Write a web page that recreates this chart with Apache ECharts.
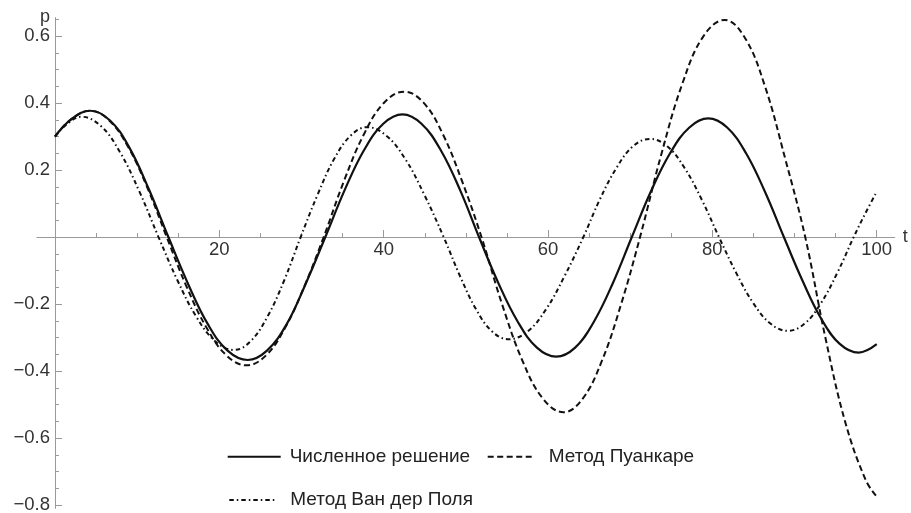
<!DOCTYPE html>
<html>
<head>
<meta charset="utf-8">
<script src="https://cdn.jsdelivr.net/npm/echarts@6/dist/echarts.min.js"></script>
<style>
html,body{margin:0;padding:0;background:#fff;}
#chart{width:911px;height:513px;}
</style>
</head>
<body>
<div id="chart"></div>
<script>
// Численное решение
const numericT = [0,2,4.3,6.7,9.05,11.4,13.8,16.2,18.6,21,23.45,25.8,28.2,30.5,32.9,35.25,37.6,39.95,42.3,
  44.6,46.95,49.3,51.6,53.95,56.3,58.65,61,63.3,65.6,67.9,70.2,72.5,74.85,77.2,79.5,81.8,84.1,86.4,88.7,
  91,93.25,95.5,97.8,100];
const numericP = [0.300,0.352,0.377,0.348,0.267,0.144,0,-0.140,-0.260,-0.339,-0.367,-0.339,-0.260,-0.140,0,
  0.140,0.259,0.338,0.366,0.338,0.259,0.140,0,-0.137,-0.252,-0.330,-0.357,-0.330,-0.252,-0.137,0,
  0.135,0.250,0.327,0.354,0.327,0.250,0.135,0,-0.132,-0.244,-0.319,-0.345,-0.320];
// Метод Пуанкаре
const poincareT = [0,2,4.3,6.6,8.95,11.3,13.6,16,18.45,20.9,23.3,25.65,28,30.35,32.7,35.15,37.6,40.05,42.5,
  44.85,47.2,49.55,51.9,54.4,56.9,59.4,61.9,64.2,66.55,68.9,71.2,73.8,76.35,78.9,81.5,83.95,86.4,88.85,91.3,
  93.75,96.2,98.65,100];
const poincareP = [0.300,0.352,0.377,0.348,0.267,0.144,0,-0.147,-0.271,-0.354,-0.383,-0.354,-0.271,-0.147,0,
  0.166,0.307,0.401,0.434,0.401,0.307,0.166,0,-0.200,-0.370,-0.483,-0.523,-0.483,-0.370,-0.200,0,
  0.248,0.458,0.599,0.648,0.595,0.450,0.235,0,-0.300,-0.555,-0.725,-0.775];
// Метод Ван дер Поля
const vanDerPolT = [0,1.6,3.2,5.55,7.9,10.25,12.6,14.9,17.2,19.5,21.8,23.8,25.85,27.9,29.9,31.95,33.95,36,38,
  40.3,42.65,44.95,47.3,49.3,51.25,53.2,55.2,57.5,59.75,62,64.3,66.3,68.35,70.35,72.4,74.5,76.6,78.7,80.8,
  82.9,85,87.1,89.2,91.2,93.2,95.2,97.2,98.6,100];
const vanDerPolP = [0.300,0.340,0.359,0.332,0.254,0.137,0,-0.129,-0.238,-0.311,-0.337,-0.311,-0.238,-0.129,0,
  0.126,0.232,0.303,0.328,0.303,0.232,0.126,0,-0.117,-0.216,-0.282,-0.305,-0.282,-0.216,-0.117,0,
  0.112,0.207,0.271,0.293,0.271,0.207,0.112,0,-0.107,-0.198,-0.259,-0.280,-0.259,-0.198,-0.107,0,0.070,0.135];

const seriesNames = ['Численное решение','Метод Пуанкаре','Метод Ван дер Поля'];
const xMajorTicks = [20,40,60,80,100];
const xMinorTicks = [5,10,15,25,30,35,45,50,55,65,70,75,85,90,95];
const yMajorTicks = [-0.8,-0.6,-0.4,-0.2,0.2,0.4,0.6];
const yMinorTicks = [-0.75,-0.7,-0.65,-0.55,-0.5,-0.45,-0.35,-0.3,-0.25,-0.15,-0.1,-0.05,
  0.05,0.1,0.15,0.25,0.3,0.35,0.45,0.5,0.55,0.65];

const pairs = (ts, ps) => ts.map((t,i) => [t, ps[i]]);

const W = 911, H = 513;
const FONT = "'Liberation Sans', Arial, sans-serif";
const AXIS_COLOR = '#9a9a9a';
const TEXT_COLOR = '#333';
const X_MIN = -2.2, X_MAX = 102.2, Y_MIN = -0.81, Y_MAX = 0.655;
const GRID = { left: 36.9, right: 16.2, top: 17.6, bottom: 4.6 };
// axes cross at (0,0): shift them inward from the grid edges
const gridW = W - GRID.left - GRID.right;
const gridH = H - GRID.top - GRID.bottom;
const yAxisShift = -(0 - X_MIN) / (X_MAX - X_MIN) * gridW;
const xAxisShift = -(0 - Y_MIN) / (Y_MAX - Y_MIN) * gridH;

function xAxisDef(major) {
  return {
    type: 'value', min: X_MIN, max: X_MAX, position: 'bottom', gridIndex: 0, offset: xAxisShift,
    axisLine: { show: major, onZero: false, lineStyle: { color: AXIS_COLOR, width: 1 } },
    axisTick: { show: true, inside: true, length: major ? 7 : 4, customValues: major ? xMajorTicks : xMinorTicks,
      lineStyle: { color: AXIS_COLOR, width: 1 } },
    axisLabel: { show: major, customValues: xMajorTicks, margin: 3, color: TEXT_COLOR, fontSize: 18.5, fontFamily: FONT },
    splitLine: { show: false },
    name: major ? 't' : '', nameLocation: 'end', nameGap: 8,
    nameTextStyle: { color: TEXT_COLOR, fontSize: 18, fontFamily: FONT }
  };
}
function yAxisDef(major) {
  return {
    type: 'value', min: Y_MIN, max: Y_MAX, position: 'left', gridIndex: 0, offset: yAxisShift,
    axisLine: { show: major, onZero: false, lineStyle: { color: AXIS_COLOR, width: 1 } },
    axisTick: { show: true, inside: true, length: major ? 7 : 4, customValues: major ? yMajorTicks : yMinorTicks,
      lineStyle: { color: AXIS_COLOR, width: 1 } },
    axisLabel: { show: major, customValues: yMajorTicks, margin: 5, color: TEXT_COLOR, fontSize: 18.5, fontFamily: FONT,
      formatter: v => String(v).replace('-', '\u2212') },
    splitLine: { show: false },
    name: major ? 'p' : '', nameLocation: 'end', nameGap: -8,
    nameTextStyle: { color: TEXT_COLOR, fontSize: 18, fontFamily: FONT, align: 'right', verticalAlign: 'bottom', padding: [0, 5, 0, 0] }
  };
}
function legendDef(name, left, top, width, textPad) {
  return {
    data: [name], left: left, top: top, orient: 'horizontal', itemWidth: width, itemHeight: 14,
    itemStyle: { color: 'rgba(0,0,0,0)', borderWidth: 0, opacity: 0 },
    textStyle: { fontSize: 19, fontFamily: FONT, color: '#222', padding: [0, 0, 0, textPad] }
  };
}

const chart = echarts.init(document.getElementById('chart'), null, { renderer: 'canvas' });
chart.setOption({
  animation: false,
  backgroundColor: '#fff',
  grid: { left: GRID.left, right: GRID.right, top: GRID.top, bottom: GRID.bottom, containLabel: false, outerBoundsMode: 'none' },
  xAxis: [xAxisDef(true), xAxisDef(false)],
  yAxis: [yAxisDef(true), yAxisDef(false)],
  legend: [
    legendDef(seriesNames[0], 221.7, 442.2, 53, 4),
    legendDef(seriesNames[1], 481.7, 442.2, 47, 9),
    legendDef(seriesNames[2], 223.3, 485.5, 45, 11)
  ],
  series: [
    { name: seriesNames[0], type: 'line', data: pairs(numericT, numericP), smooth: 0.4, symbol: 'none', z: 4,
      color: '#111', lineStyle: { color: '#111', width: 2.2, type: 'solid' } },
    { name: seriesNames[1], type: 'line', data: pairs(poincareT, poincareP), smooth: 0.4, symbol: 'none', z: 3,
      color: '#111', lineStyle: { color: '#111', width: 2, type: [6, 3.5] } },
    { name: seriesNames[2], type: 'line', data: pairs(vanDerPolT, vanDerPolP), smooth: 0.4, symbol: 'none', z: 2,
      color: '#111', lineStyle: { color: '#111', width: 2, type: [4.5, 3, 1.5, 3] } }
  ]
});
</script>
</body>
</html>
